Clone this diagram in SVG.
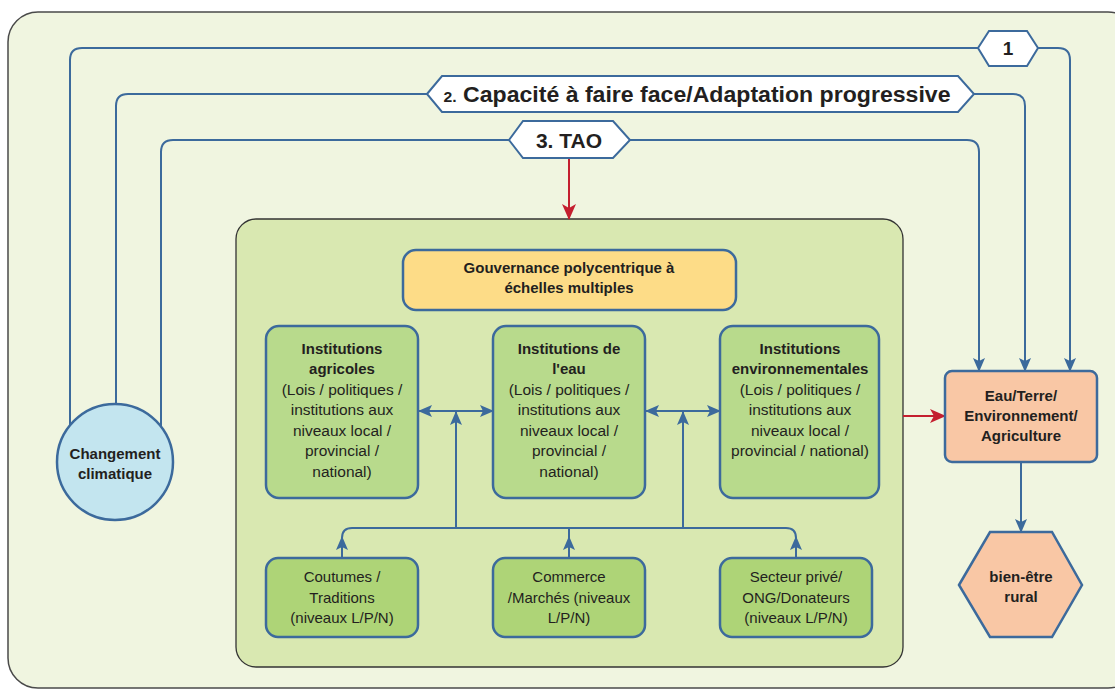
<svg xmlns="http://www.w3.org/2000/svg" width="1115" height="689" viewBox="0 0 1115 689">
<defs>
<style>
.ln{fill:none;stroke:#3c6a9c;stroke-width:2}
.rd{fill:none;stroke:#c41f2f;stroke-width:2}
.box{stroke:#3c6a9c;stroke-width:2.5}
.t{font-family:"Liberation Sans",Arial,sans-serif;fill:#231f20;text-anchor:middle}
.b{font-weight:bold;font-size:15px}
.r{font-size:15.5px}
.s{font-size:15px}
.hx{fill:#ffffff;stroke:#3c6a9c;stroke-width:2}
</style>
<marker id="ab" viewBox="0 0 14 12" refX="13" refY="6" markerWidth="14" markerHeight="12" markerUnits="userSpaceOnUse" orient="auto-start-reverse">
<path d="M0,0 L14,6 L0,12 L3,6 z" fill="#3c6a9c"/>
</marker>
<marker id="ar" viewBox="0 0 16 14" refX="15" refY="7" markerWidth="16" markerHeight="14" markerUnits="userSpaceOnUse" orient="auto">
<path d="M0,0 L16,7 L0,14 L4,7 z" fill="#c41f2f"/>
</marker>
</defs>

<rect x="8" y="12" width="1130" height="676" rx="30" fill="#f0f5e0" stroke="#4a4a4a" stroke-width="1.5"/>

<g id="inner">
<rect x="236" y="219" width="667" height="448" rx="20" fill="#d9e8b1" stroke="#333" stroke-width="1.3"/>
</g>

<g id="connectors">
<path class="ln" d="M70,425 V60 Q70,48 82,48 H978"/>
<path class="ln" d="M1038,48 H1058 Q1070,48 1070,60 V371" marker-end="url(#ab)"/>
<path class="ln" d="M116,404 V106 Q116,94 128,94 H427"/>
<path class="ln" d="M974,94 H1013 Q1025,94 1025,106 V371" marker-end="url(#ab)"/>
<path class="ln" d="M161,427 V152 Q161,140 173,140 H509"/>
<path class="ln" d="M630,140 H967 Q979,140 979,152 V371" marker-end="url(#ab)"/>
<path class="rd" d="M569,158 V219" marker-end="url(#ar)"/>
<path class="rd" d="M903,416 H945" marker-end="url(#ar)"/>
<path class="ln" d="M1021,462 V532" marker-end="url(#ab)"/>
<path class="ln" d="M419,411 H493" marker-start="url(#ab)" marker-end="url(#ab)"/>
<path class="ln" d="M646,411 H720" marker-start="url(#ab)" marker-end="url(#ab)"/>
<path class="ln" d="M456,528 V412" marker-end="url(#ab)"/>
<path class="ln" d="M683,528 V412" marker-end="url(#ab)"/>
<path class="ln" d="M342,538 Q342,528 352,528 H786 Q796,528 796,538"/>
<path class="ln" d="M342,558 V537" marker-end="url(#ab)"/>
<path class="ln" d="M796,558 V537" marker-end="url(#ab)"/>
<path class="ln" d="M569,558 V528"/>
<path class="ln" d="M569,558 V537" marker-end="url(#ab)"/>
</g>

<g id="hex1">
<polygon class="hx" points="978,48 989,31 1027,31 1038,48 1027,66 989,66"/>
<text class="t" x="1008" y="55" font-size="19" font-weight="bold">1</text>
</g>
<g id="hex2">
<polygon class="hx" points="427,94 442,76 958,76 974,94 958,112 442,112"/>
<text class="t" x="697" y="102" font-size="22" font-weight="bold" textLength="507" lengthAdjust="spacingAndGlyphs"><tspan font-size="15">2.</tspan> Capacité à faire face/Adaptation progressive</text>
</g>
<g id="hex3">
<polygon class="hx" points="509,140 523,121 613,121 630,140 613,158 523,158"/>
<text class="t" x="569" y="148" font-size="21" font-weight="bold">3. TAO</text>
</g>

<g id="climat">
<circle cx="115" cy="462" r="58" fill="#c3e5ef" stroke="#3c6a9c" stroke-width="2.5"/>
<text class="t b" x="115" y="459">Changement</text>
<text class="t b" x="115" y="479">climatique</text>
</g>

<g id="gouvernance">
<rect class="box" x="403" y="250" width="333" height="60" rx="13" fill="#fddc87"/>
<text class="t b" x="569" y="273">Gouvernance polycentrique à</text>
<text class="t b" x="569" y="293">échelles multiples</text>
</g>

<g id="inst-agri">
<rect class="box" x="266" y="326" width="152" height="172" rx="13" fill="#b8da8c"/>
<text class="t b" x="342" y="354">Institutions</text>
<text class="t b" x="342" y="374">agricoles</text>
<text class="t r" x="342" y="395">(Lois / politiques /</text>
<text class="t r" x="342" y="415">institutions aux</text>
<text class="t r" x="342" y="436">niveaux local /</text>
<text class="t r" x="342" y="456">provincial /</text>
<text class="t r" x="342" y="477">national)</text>
</g>

<g id="inst-eau">
<rect class="box" x="493" y="326" width="152" height="172" rx="13" fill="#b8da8c"/>
<text class="t b" x="569" y="354">Institutions de</text>
<text class="t b" x="569" y="374">l'eau</text>
<text class="t r" x="569" y="395">(Lois / politiques /</text>
<text class="t r" x="569" y="415">institutions aux</text>
<text class="t r" x="569" y="436">niveaux local /</text>
<text class="t r" x="569" y="456">provincial /</text>
<text class="t r" x="569" y="477">national)</text>
</g>

<g id="inst-env">
<rect class="box" x="720" y="326" width="159" height="172" rx="13" fill="#b8da8c"/>
<text class="t b" x="800" y="354">Institutions</text>
<text class="t b" x="800" y="374">environnementales</text>
<text class="t r" x="800" y="395">(Lois / politiques /</text>
<text class="t r" x="800" y="415">institutions aux</text>
<text class="t r" x="800" y="436">niveaux local /</text>
<text class="t r" x="800" y="456">provincial / national)</text>
</g>

<g id="coutumes">
<rect class="box" x="266" y="558" width="152" height="79" rx="12" fill="#aed477"/>
<text class="t s" x="342" y="582">Coutumes /</text>
<text class="t s" x="342" y="603">Traditions</text>
<text class="t s" x="342" y="623">(niveaux L/P/N)</text>
</g>

<g id="commerce">
<rect class="box" x="493" y="558" width="152" height="79" rx="12" fill="#aed477"/>
<text class="t s" x="569" y="582">Commerce</text>
<text class="t s" x="569" y="603">/Marchés (niveaux</text>
<text class="t s" x="569" y="623">L/P/N)</text>
</g>

<g id="secteur">
<rect class="box" x="720" y="558" width="152" height="79" rx="12" fill="#aed477"/>
<text class="t s" x="796" y="582">Secteur privé/</text>
<text class="t s" x="796" y="603">ONG/Donateurs</text>
<text class="t s" x="796" y="623">(niveaux L/P/N)</text>
</g>

<g id="eau-terre">
<rect class="box" x="945" y="371" width="152" height="91" rx="7" fill="#f9c7a5"/>
<text class="t b" x="1021" y="401">Eau/Terre/</text>
<text class="t b" x="1021" y="421">Environnement/</text>
<text class="t b" x="1021" y="441">Agriculture</text>
</g>

<g id="bien-etre">
<polygon class="box" points="959,585 990,532 1052,532 1082,585 1052,637 990,637" fill="#f9c7a5"/>
<text class="t b" x="1021" y="582">bien-être</text>
<text class="t b" x="1021" y="602">rural</text>
</g>
</svg>
